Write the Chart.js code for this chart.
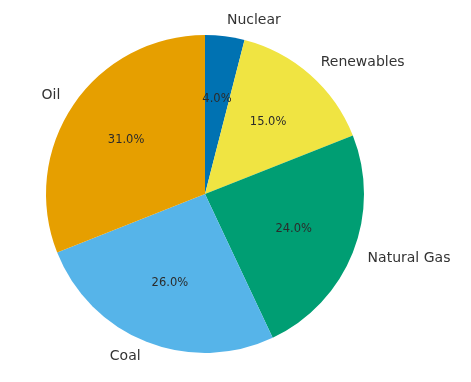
<!DOCTYPE html>
<html>
<head>
<meta charset="utf-8">
<script src="https://cdn.jsdelivr.net/npm/chart.js@4/dist/chart.umd.min.js"></script>
<style>
  html, body { margin: 0; padding: 0; background: #fff; }
  #wrap { width: 471px; height: 382px; }
</style>
</head>
<body>
<div id="wrap"><canvas id="my-chart"></canvas></div>
<script>
"use strict";
const labels = ["Nuclear", "Renewables", "Natural Gas", "Coal", "Oil"];
const shares = [4, 15, 24, 26, 31];
const colors = ["#0072B2", "#F0E442", "#009E73", "#56B4E9", "#E69F00"];

// draws the outside labels and the percentages inside, like matplotlib does
const pieText = {
  id: "pieText",
  afterDatasetsDraw(chart) {
    const ctx = chart.ctx;
    const meta = chart.getDatasetMeta(0);
    const total = shares.reduce((a, b) => a + b, 0);
    ctx.save();
    for (let i = 0; i < meta.data.length; i++) {
      const arc = meta.data[i];
      const mid = (arc.startAngle + arc.endAngle) / 2;
      const r = arc.outerRadius;
      const cx = Math.cos(mid);
      const cy = Math.sin(mid);

      // category label at 1.1 radius
      ctx.font = "14px 'DejaVu Sans'";
      ctx.fillStyle = "#333";
      ctx.textBaseline = "middle";
      ctx.textAlign = cx > 0 ? "left" : "right";
      ctx.fillText(labels[i], arc.x + cx * r * 1.1, arc.y + cy * r * 1.1);

      // percentage at 0.6 radius
      ctx.font = "11.5px 'DejaVu Sans'";
      ctx.fillStyle = "#2b2b2b";
      ctx.textAlign = "center";
      const pct = (shares[i] / total * 100).toFixed(1) + "%";
      ctx.fillText(pct, arc.x + cx * r * 0.6, arc.y + cy * r * 0.6);
    }
    ctx.restore();
  },
};

new Chart(document.getElementById("my-chart"), {
  type: "pie",
  data: {
    labels: labels,
    datasets: [
      {
        data: shares,
        backgroundColor: colors,
        borderWidth: 0,
      },
    ],
  },
  options: {
    responsive: true,
    maintainAspectRatio: false,
    animation: false,
    layout: {
      padding: { left: 46, right: 107, top: 35, bottom: 29 },
    },
    plugins: {
      legend: { display: false },
      tooltip: { enabled: false },
    },
  },
  plugins: [pieText],
});
</script>
</body>
</html>
